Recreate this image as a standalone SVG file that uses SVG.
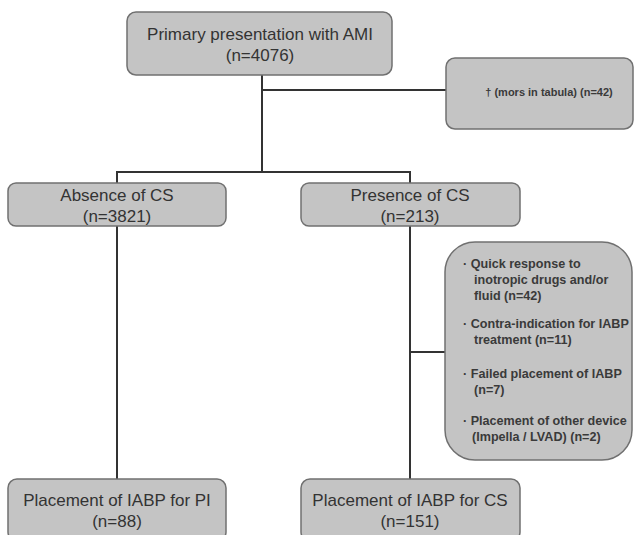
<svg xmlns="http://www.w3.org/2000/svg" width="636" height="535" viewBox="0 0 636 535">
<defs>
<style>
.box{fill:#c4c4c4;stroke:#707070;stroke-width:1.5}
.t{font-family:"Liberation Sans",Arial,sans-serif;font-size:17px;fill:#333;text-anchor:middle}
.s{font-family:"Liberation Sans",Arial,sans-serif;font-size:12.6px;font-weight:bold;fill:#3a3a3a}
.m{font-family:"Liberation Sans",Arial,sans-serif;font-size:11px;font-weight:bold;fill:#3a3a3a;text-anchor:middle}
.c{stroke:#333;stroke-width:2;fill:none}
</style>
</defs>
<rect width="636" height="535" fill="#fff"/>
<g id="connectors">
<line class="c" x1="262" y1="75" x2="262" y2="172"/>
<line class="c" x1="262" y1="90" x2="446" y2="90"/>
<line class="c" x1="116" y1="172" x2="411" y2="172"/>
<line class="c" x1="117" y1="171" x2="117" y2="183"/>
<line class="c" x1="410" y1="171" x2="410" y2="183"/>
<line class="c" x1="117" y1="226" x2="117" y2="479"/>
<line class="c" x1="410" y1="226" x2="410" y2="479"/>
<line class="c" x1="410" y1="352" x2="445" y2="352"/>
</g>
<g id="n-ami">
<rect class="box" x="127" y="12" width="265" height="63" rx="9"/>
<text class="t" x="260" y="40">Primary presentation with AMI</text>
<text class="t" x="260" y="61">(n=4076)</text>
</g>
<g id="n-mors">
<rect class="box" x="446" y="58" width="187" height="71" rx="9"/>
<text class="m" x="549" y="96">† (mors in tabula) (n=42)</text>
</g>
<g id="n-absence">
<rect class="box" x="8" y="183" width="218" height="43" rx="8"/>
<text class="t" x="117" y="201">Absence of CS</text>
<text class="t" x="117" y="222">(n=3821)</text>
</g>
<g id="n-presence">
<rect class="box" x="301" y="183" width="219" height="43" rx="8"/>
<text class="t" x="410" y="201">Presence of CS</text>
<text class="t" x="410" y="222">(n=213)</text>
</g>
<g id="n-exclusions">
<rect class="box" x="445" y="242" width="187" height="218" rx="30"/>
<text class="s"><tspan x="463" y="268">· Quick response to</tspan><tspan x="474" y="284">inotropic drugs and/or</tspan><tspan x="474" y="300">fluid (n=42)</tspan></text>
<text class="s"><tspan x="463" y="328">· Contra-indication for IABP</tspan><tspan x="474" y="344">treatment (n=11)</tspan></text>
<text class="s"><tspan x="463" y="378">· Failed placement of IABP</tspan><tspan x="474" y="394">(n=7)</tspan></text>
<text class="s"><tspan x="463" y="425">· Placement of other device</tspan><tspan x="472" y="441">(Impella / LVAD) (n=2)</tspan></text>
</g>
<g id="n-iabp-pi">
<rect class="box" x="8" y="479" width="218" height="62" rx="9"/>
<text class="t" x="117" y="506">Placement of IABP for PI</text>
<text class="t" x="117" y="527">(n=88)</text>
</g>
<g id="n-iabp-cs">
<rect class="box" x="301" y="479" width="219" height="62" rx="9"/>
<text class="t" x="410" y="506">Placement of IABP for CS</text>
<text class="t" x="410" y="527">(n=151)</text>
</g>
</svg>
